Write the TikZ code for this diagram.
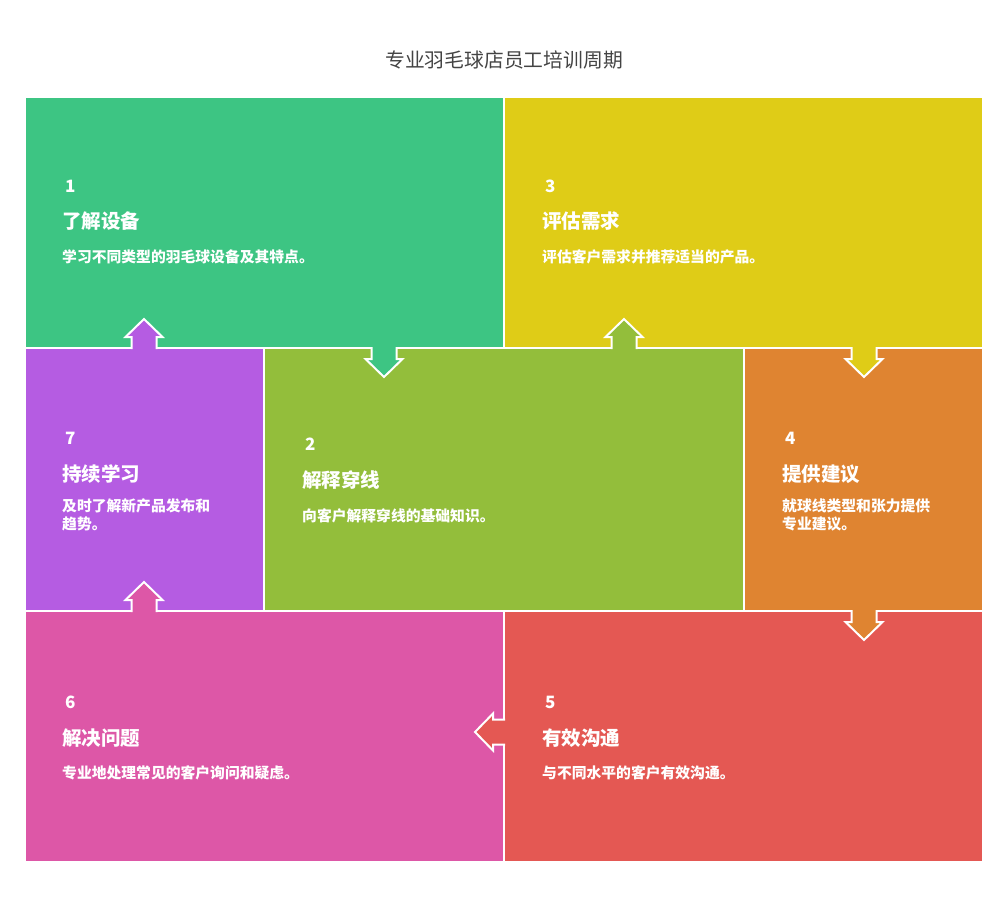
\documentclass[tikz,border=0pt]{standalone}
\usepackage{fontspec}
\newfontfamily\cjk{Noto Sans CJK SC}
\definecolor{cgreen}{HTML}{3DC583}
\definecolor{cyellow}{HTML}{DFCC17}
\definecolor{colive}{HTML}{93BE3B}
\definecolor{corange}{HTML}{DF8431}
\definecolor{cpurple}{HTML}{B55CE2}
\definecolor{cpink}{HTML}{DD57A7}
\definecolor{cred}{HTML}{E45853}
\definecolor{ctitle}{HTML}{444444}
\tikzset{
  panel/.style={draw=white, line width=2pt, inner sep=0pt},
  num/.style={anchor=west, inner sep=0pt, text=white, font=\cjk\bfseries\fontsize{17}{20}\selectfont},
  head/.style={anchor=west, inner sep=0pt, text=white, font=\cjk\bfseries\fontsize{19.5}{23}\selectfont},
  desc/.style={anchor=west, inner sep=0pt, text=white, align=left, font=\cjk\bfseries\fontsize{14.8}{18}\selectfont}
}
\begin{document}
\begin{tikzpicture}[x=1pt, y=-1pt]
		\useasboundingbox (0,0) rectangle (1008,912);
		\node[text=ctitle, font=\cjk\fontsize{19.8}{23}\selectfont] (title) at (504,60) {专业羽毛球店员工培训周期};
		% panels
		\node[panel, fill=cgreen, minimum width=479pt, minimum height=251pt] (p1) at (264.5,222.5) {};
		\node[panel, fill=cyellow, minimum width=479pt, minimum height=251pt] (p3) at (743.5,222.5) {};
		\node[panel, fill=cpurple, minimum width=239pt, minimum height=263pt] (p7) at (144.5,479.5) {};
		\node[panel, fill=colive, minimum width=480pt, minimum height=263pt] (p2) at (504,479.5) {};
		\node[panel, fill=corange, minimum width=239pt, minimum height=263pt] (p4) at (863.5,479.5) {};
		\node[panel, fill=cpink, minimum width=479pt, minimum height=251pt] (p6) at (264.5,736.5) {};
		\node[panel, fill=cred, minimum width=479pt, minimum height=251pt] (p5) at (743.5,736.5) {};
		% block arrows between panels
		\foreach \x/\y/\r/\c in {384/348/0/cgreen, 624/348/180/colive, 864/348/0/cyellow,
			864/611/0/corange, 504/732/-90/cred, 144/611/180/cpink, 144/348/180/cpurple}
		{
			\begin{scope}[shift={(\x,\y)}, rotate=\r]
				\fill[\c] (-12.5,-4) -- (-12.5,11) -- (-18.5,11) -- (0,29) -- (18.5,11) -- (12.5,11) -- (12.5,-4) -- cycle;
				\draw[white, line width=2pt, line join=miter] (-12.5,-1) -- (-12.5,11) -- (-18.5,11) -- (0,29) -- (18.5,11) -- (12.5,11) -- (12.5,-1);
			\end{scope}
		}
		% texts
		\node[num] (n1) at (65,186) {1};
		\node[head] (h1) at (62,221) {了解设备};
		\node[desc] (d1) at (62,257) {学习不同类型的羽毛球设备及其特点。};
		\node[num] (n3) at (545,186) {3};
		\node[head] (h3) at (542,221) {评估需求};
		\node[desc] (d3) at (542,257) {评估客户需求并推荐适当的产品。};
		\node[num] (n7) at (65,438) {7};
		\node[head] (h7) at (62,474) {持续学习};
		\node[desc] (d7) at (62,515) {及时了解新产品发布和\\趋势。};
		\node[num] (n2) at (305,444) {2};
		\node[head] (h2) at (302,480) {解释穿线};
		\node[desc] (d2) at (302,516) {向客户解释穿线的基础知识。};
		\node[num] (n4) at (785,438) {4};
		\node[head] (h4) at (782,474) {提供建议};
		\node[desc] (d4) at (782,515) {就球线类型和张力提供\\专业建议。};
		\node[num] (n6) at (65,702) {6};
		\node[head] (h6) at (62,738) {解决问题};
		\node[desc] (d6) at (62,773) {专业地处理常见的客户询问和疑虑。};
		\node[num] (n5) at (545,702) {5};
		\node[head] (h5) at (542,738) {有效沟通};
		\node[desc] (d5) at (542,773) {与不同水平的客户有效沟通。};
\end{tikzpicture}
\end{document}
